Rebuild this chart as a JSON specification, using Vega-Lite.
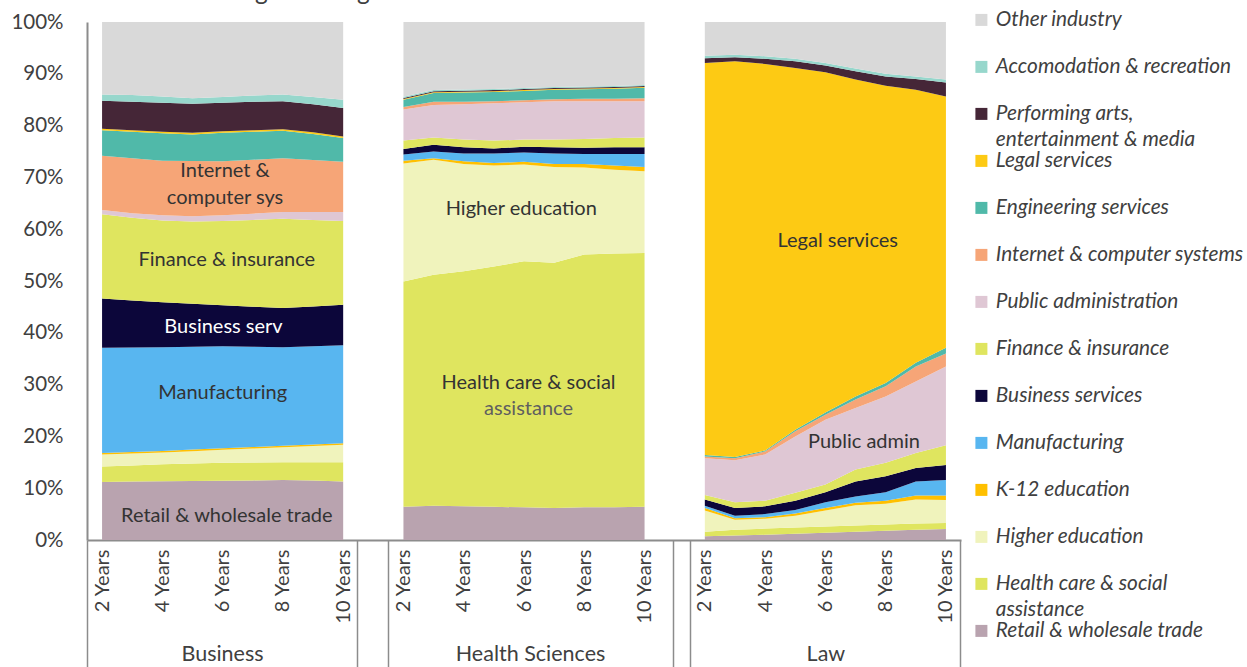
{
  "$schema": "https://vega.github.io/schema/vega-lite/v6.json",
  "width": 874,
  "height": 518,
  "autosize": {"type": "none"},
  "padding": {"left": 87, "top": 22, "right": 286, "bottom": 127},
  "background": "white",
  "config": {
    "view": {"stroke": null},
    "font": "Lato",
    "axis": {"labelFont": "Lato", "labelColor": "#404040"}
  },
  "title": {
    "text": "2000 to 2012 graduating cohorts",
    "anchor": "start",
    "frame": "group",
    "font": "Lato",
    "fontSize": 24.5,
    "fontWeight": "normal",
    "color": "#404040",
    "dx": 13,
    "dy": 15,
    "offset": 0,
    "baseline": "alphabetic"
  },
  "datasets": {
    "industries": [
      {"industry":"Retail & wholesale trade","stack_rank":1},
      {"industry":"Health care & social assistance","stack_rank":2},
      {"industry":"Higher education","stack_rank":3},
      {"industry":"K-12 education","stack_rank":4},
      {"industry":"Manufacturing","stack_rank":5},
      {"industry":"Business services","stack_rank":6},
      {"industry":"Finance & insurance","stack_rank":7},
      {"industry":"Public administration","stack_rank":8},
      {"industry":"Internet & computer systems","stack_rank":9},
      {"industry":"Engineering services","stack_rank":10},
      {"industry":"Legal services","stack_rank":11},
      {"industry":"Performing arts, entertainment & media","stack_rank":12},
      {"industry":"Accomodation & recreation","stack_rank":13},
      {"industry":"Other industry","stack_rank":14}
    ],
    "shares": [
      {"program":"Business","pos":0,"industry":"Retail & wholesale trade","share":11.2},
      {"program":"Business","pos":1,"industry":"Retail & wholesale trade","share":11.3},
      {"program":"Business","pos":2,"industry":"Retail & wholesale trade","share":11.35},
      {"program":"Business","pos":3,"industry":"Retail & wholesale trade","share":11.4},
      {"program":"Business","pos":4,"industry":"Retail & wholesale trade","share":11.45},
      {"program":"Business","pos":5,"industry":"Retail & wholesale trade","share":11.5},
      {"program":"Business","pos":6,"industry":"Retail & wholesale trade","share":11.6},
      {"program":"Business","pos":7,"industry":"Retail & wholesale trade","share":11.5},
      {"program":"Business","pos":8,"industry":"Retail & wholesale trade","share":11.3},
      {"program":"Business","pos":0,"industry":"Health care & social assistance","share":3.0},
      {"program":"Business","pos":1,"industry":"Health care & social assistance","share":3.1},
      {"program":"Business","pos":2,"industry":"Health care & social assistance","share":3.25},
      {"program":"Business","pos":3,"industry":"Health care & social assistance","share":3.35},
      {"program":"Business","pos":4,"industry":"Health care & social assistance","share":3.45},
      {"program":"Business","pos":5,"industry":"Health care & social assistance","share":3.45},
      {"program":"Business","pos":6,"industry":"Health care & social assistance","share":3.4},
      {"program":"Business","pos":7,"industry":"Health care & social assistance","share":3.5},
      {"program":"Business","pos":8,"industry":"Health care & social assistance","share":3.7},
      {"program":"Business","pos":0,"industry":"Higher education","share":2.3},
      {"program":"Business","pos":1,"industry":"Higher education","share":2.3},
      {"program":"Business","pos":2,"industry":"Higher education","share":2.3},
      {"program":"Business","pos":3,"industry":"Higher education","share":2.4},
      {"program":"Business","pos":4,"industry":"Higher education","share":2.5},
      {"program":"Business","pos":5,"industry":"Higher education","share":2.7},
      {"program":"Business","pos":6,"industry":"Higher education","share":2.9},
      {"program":"Business","pos":7,"industry":"Higher education","share":3.15},
      {"program":"Business","pos":8,"industry":"Higher education","share":3.4},
      {"program":"Business","pos":0,"industry":"K-12 education","share":0.3},
      {"program":"Business","pos":1,"industry":"K-12 education","share":0.3},
      {"program":"Business","pos":2,"industry":"K-12 education","share":0.3},
      {"program":"Business","pos":3,"industry":"K-12 education","share":0.3},
      {"program":"Business","pos":4,"industry":"K-12 education","share":0.3},
      {"program":"Business","pos":5,"industry":"K-12 education","share":0.3},
      {"program":"Business","pos":6,"industry":"K-12 education","share":0.3},
      {"program":"Business","pos":7,"industry":"K-12 education","share":0.3},
      {"program":"Business","pos":8,"industry":"K-12 education","share":0.3},
      {"program":"Business","pos":0,"industry":"Manufacturing","share":20.3},
      {"program":"Business","pos":1,"industry":"Manufacturing","share":20.15},
      {"program":"Business","pos":2,"industry":"Manufacturing","share":20.0},
      {"program":"Business","pos":3,"industry":"Manufacturing","share":19.85},
      {"program":"Business","pos":4,"industry":"Manufacturing","share":19.7},
      {"program":"Business","pos":5,"industry":"Manufacturing","share":19.35},
      {"program":"Business","pos":6,"industry":"Manufacturing","share":19.0},
      {"program":"Business","pos":7,"industry":"Manufacturing","share":18.95},
      {"program":"Business","pos":8,"industry":"Manufacturing","share":18.9},
      {"program":"Business","pos":0,"industry":"Business services","share":9.5},
      {"program":"Business","pos":1,"industry":"Business services","share":9.1},
      {"program":"Business","pos":2,"industry":"Business services","share":8.7},
      {"program":"Business","pos":3,"industry":"Business services","share":8.3},
      {"program":"Business","pos":4,"industry":"Business services","share":7.9},
      {"program":"Business","pos":5,"industry":"Business services","share":7.75},
      {"program":"Business","pos":6,"industry":"Business services","share":7.6},
      {"program":"Business","pos":7,"industry":"Business services","share":7.7},
      {"program":"Business","pos":8,"industry":"Business services","share":7.8},
      {"program":"Business","pos":0,"industry":"Finance & insurance","share":16.3},
      {"program":"Business","pos":1,"industry":"Finance & insurance","share":15.95},
      {"program":"Business","pos":2,"industry":"Finance & insurance","share":15.8},
      {"program":"Business","pos":3,"industry":"Finance & insurance","share":15.9},
      {"program":"Business","pos":4,"industry":"Finance & insurance","share":16.3},
      {"program":"Business","pos":5,"industry":"Finance & insurance","share":16.75},
      {"program":"Business","pos":6,"industry":"Finance & insurance","share":17.2},
      {"program":"Business","pos":7,"industry":"Finance & insurance","share":16.7},
      {"program":"Business","pos":8,"industry":"Finance & insurance","share":16.2},
      {"program":"Business","pos":0,"industry":"Public administration","share":0.8},
      {"program":"Business","pos":1,"industry":"Public administration","share":0.9},
      {"program":"Business","pos":2,"industry":"Public administration","share":1.0},
      {"program":"Business","pos":3,"industry":"Public administration","share":1.0},
      {"program":"Business","pos":4,"industry":"Public administration","share":1.1},
      {"program":"Business","pos":5,"industry":"Public administration","share":1.2},
      {"program":"Business","pos":6,"industry":"Public administration","share":1.3},
      {"program":"Business","pos":7,"industry":"Public administration","share":1.5},
      {"program":"Business","pos":8,"industry":"Public administration","share":1.7},
      {"program":"Business","pos":0,"industry":"Internet & computer systems","share":10.5},
      {"program":"Business","pos":1,"industry":"Internet & computer systems","share":10.6},
      {"program":"Business","pos":2,"industry":"Internet & computer systems","share":10.5},
      {"program":"Business","pos":3,"industry":"Internet & computer systems","share":10.65},
      {"program":"Business","pos":4,"industry":"Internet & computer systems","share":10.4},
      {"program":"Business","pos":5,"industry":"Internet & computer systems","share":10.4},
      {"program":"Business","pos":6,"industry":"Internet & computer systems","share":10.4},
      {"program":"Business","pos":7,"industry":"Internet & computer systems","share":10.05},
      {"program":"Business","pos":8,"industry":"Internet & computer systems","share":9.7},
      {"program":"Business","pos":0,"industry":"Engineering services","share":4.9},
      {"program":"Business","pos":1,"industry":"Engineering services","share":5.1},
      {"program":"Business","pos":2,"industry":"Engineering services","share":5.3},
      {"program":"Business","pos":3,"industry":"Engineering services","share":5.15},
      {"program":"Business","pos":4,"industry":"Engineering services","share":5.5},
      {"program":"Business","pos":5,"industry":"Engineering services","share":5.4},
      {"program":"Business","pos":6,"industry":"Engineering services","share":5.3},
      {"program":"Business","pos":7,"industry":"Engineering services","share":5.05},
      {"program":"Business","pos":8,"industry":"Engineering services","share":4.6},
      {"program":"Business","pos":0,"industry":"Legal services","share":0.3},
      {"program":"Business","pos":1,"industry":"Legal services","share":0.3},
      {"program":"Business","pos":2,"industry":"Legal services","share":0.3},
      {"program":"Business","pos":3,"industry":"Legal services","share":0.3},
      {"program":"Business","pos":4,"industry":"Legal services","share":0.3},
      {"program":"Business","pos":5,"industry":"Legal services","share":0.3},
      {"program":"Business","pos":6,"industry":"Legal services","share":0.3},
      {"program":"Business","pos":7,"industry":"Legal services","share":0.3},
      {"program":"Business","pos":8,"industry":"Legal services","share":0.3},
      {"program":"Business","pos":0,"industry":"Performing arts, entertainment & media","share":5.4},
      {"program":"Business","pos":1,"industry":"Performing arts, entertainment & media","share":5.5},
      {"program":"Business","pos":2,"industry":"Performing arts, entertainment & media","share":5.6},
      {"program":"Business","pos":3,"industry":"Performing arts, entertainment & media","share":5.6},
      {"program":"Business","pos":4,"industry":"Performing arts, entertainment & media","share":5.5},
      {"program":"Business","pos":5,"industry":"Performing arts, entertainment & media","share":5.5},
      {"program":"Business","pos":6,"industry":"Performing arts, entertainment & media","share":5.4},
      {"program":"Business","pos":7,"industry":"Performing arts, entertainment & media","share":5.4},
      {"program":"Business","pos":8,"industry":"Performing arts, entertainment & media","share":5.5},
      {"program":"Business","pos":0,"industry":"Accomodation & recreation","share":1.2},
      {"program":"Business","pos":1,"industry":"Accomodation & recreation","share":1.3},
      {"program":"Business","pos":2,"industry":"Accomodation & recreation","share":1.2},
      {"program":"Business","pos":3,"industry":"Accomodation & recreation","share":1.1},
      {"program":"Business","pos":4,"industry":"Accomodation & recreation","share":1.1},
      {"program":"Business","pos":5,"industry":"Accomodation & recreation","share":1.2},
      {"program":"Business","pos":6,"industry":"Accomodation & recreation","share":1.3},
      {"program":"Business","pos":7,"industry":"Accomodation & recreation","share":1.4},
      {"program":"Business","pos":8,"industry":"Accomodation & recreation","share":1.6},
      {"program":"Business","pos":0,"industry":"Other industry","share":14.0},
      {"program":"Business","pos":1,"industry":"Other industry","share":14.1},
      {"program":"Business","pos":2,"industry":"Other industry","share":14.4},
      {"program":"Business","pos":3,"industry":"Other industry","share":14.7},
      {"program":"Business","pos":4,"industry":"Other industry","share":14.5},
      {"program":"Business","pos":5,"industry":"Other industry","share":14.2},
      {"program":"Business","pos":6,"industry":"Other industry","share":14.0},
      {"program":"Business","pos":7,"industry":"Other industry","share":14.5},
      {"program":"Business","pos":8,"industry":"Other industry","share":15.0},

      {"program":"Health Sciences","pos":10,"industry":"Retail & wholesale trade","share":6.4},
      {"program":"Health Sciences","pos":11,"industry":"Retail & wholesale trade","share":6.6},
      {"program":"Health Sciences","pos":12,"industry":"Retail & wholesale trade","share":6.5},
      {"program":"Health Sciences","pos":13,"industry":"Retail & wholesale trade","share":6.4},
      {"program":"Health Sciences","pos":14,"industry":"Retail & wholesale trade","share":6.3},
      {"program":"Health Sciences","pos":15,"industry":"Retail & wholesale trade","share":6.2},
      {"program":"Health Sciences","pos":16,"industry":"Retail & wholesale trade","share":6.3},
      {"program":"Health Sciences","pos":17,"industry":"Retail & wholesale trade","share":6.3},
      {"program":"Health Sciences","pos":18,"industry":"Retail & wholesale trade","share":6.4},
      {"program":"Health Sciences","pos":10,"industry":"Health care & social assistance","share":43.5},
      {"program":"Health Sciences","pos":11,"industry":"Health care & social assistance","share":44.6},
      {"program":"Health Sciences","pos":12,"industry":"Health care & social assistance","share":45.4},
      {"program":"Health Sciences","pos":13,"industry":"Health care & social assistance","share":46.4},
      {"program":"Health Sciences","pos":14,"industry":"Health care & social assistance","share":47.5},
      {"program":"Health Sciences","pos":15,"industry":"Health care & social assistance","share":47.3},
      {"program":"Health Sciences","pos":16,"industry":"Health care & social assistance","share":48.8},
      {"program":"Health Sciences","pos":17,"industry":"Health care & social assistance","share":49.0},
      {"program":"Health Sciences","pos":18,"industry":"Health care & social assistance","share":49.0},
      {"program":"Health Sciences","pos":10,"industry":"Higher education","share":22.8},
      {"program":"Health Sciences","pos":11,"industry":"Higher education","share":22.2},
      {"program":"Health Sciences","pos":12,"industry":"Higher education","share":20.7},
      {"program":"Health Sciences","pos":13,"industry":"Higher education","share":19.5},
      {"program":"Health Sciences","pos":14,"industry":"Higher education","share":18.7},
      {"program":"Health Sciences","pos":15,"industry":"Higher education","share":18.5},
      {"program":"Health Sciences","pos":16,"industry":"Higher education","share":16.8},
      {"program":"Health Sciences","pos":17,"industry":"Higher education","share":16.2},
      {"program":"Health Sciences","pos":18,"industry":"Higher education","share":15.8},
      {"program":"Health Sciences","pos":10,"industry":"K-12 education","share":0.5},
      {"program":"Health Sciences","pos":11,"industry":"K-12 education","share":0.3},
      {"program":"Health Sciences","pos":12,"industry":"K-12 education","share":0.5},
      {"program":"Health Sciences","pos":13,"industry":"K-12 education","share":0.5},
      {"program":"Health Sciences","pos":14,"industry":"K-12 education","share":0.5},
      {"program":"Health Sciences","pos":15,"industry":"K-12 education","share":0.6},
      {"program":"Health Sciences","pos":16,"industry":"K-12 education","share":0.7},
      {"program":"Health Sciences","pos":17,"industry":"K-12 education","share":0.8},
      {"program":"Health Sciences","pos":18,"industry":"K-12 education","share":0.8},
      {"program":"Health Sciences","pos":10,"industry":"Manufacturing","share":1.2},
      {"program":"Health Sciences","pos":11,"industry":"Manufacturing","share":1.3},
      {"program":"Health Sciences","pos":12,"industry":"Manufacturing","share":1.5},
      {"program":"Health Sciences","pos":13,"industry":"Manufacturing","share":1.8},
      {"program":"Health Sciences","pos":14,"industry":"Manufacturing","share":1.8},
      {"program":"Health Sciences","pos":15,"industry":"Manufacturing","share":2.0},
      {"program":"Health Sciences","pos":16,"industry":"Manufacturing","share":1.9},
      {"program":"Health Sciences","pos":17,"industry":"Manufacturing","share":2.2},
      {"program":"Health Sciences","pos":18,"industry":"Manufacturing","share":2.5},
      {"program":"Health Sciences","pos":10,"industry":"Business services","share":1.1},
      {"program":"Health Sciences","pos":11,"industry":"Business services","share":1.3},
      {"program":"Health Sciences","pos":12,"industry":"Business services","share":1.2},
      {"program":"Health Sciences","pos":13,"industry":"Business services","share":1.0},
      {"program":"Health Sciences","pos":14,"industry":"Business services","share":1.1},
      {"program":"Health Sciences","pos":15,"industry":"Business services","share":1.2},
      {"program":"Health Sciences","pos":16,"industry":"Business services","share":1.2},
      {"program":"Health Sciences","pos":17,"industry":"Business services","share":1.3},
      {"program":"Health Sciences","pos":18,"industry":"Business services","share":1.3},
      {"program":"Health Sciences","pos":10,"industry":"Finance & insurance","share":1.6},
      {"program":"Health Sciences","pos":11,"industry":"Finance & insurance","share":1.4},
      {"program":"Health Sciences","pos":12,"industry":"Finance & insurance","share":1.5},
      {"program":"Health Sciences","pos":13,"industry":"Finance & insurance","share":1.5},
      {"program":"Health Sciences","pos":14,"industry":"Finance & insurance","share":1.4},
      {"program":"Health Sciences","pos":15,"industry":"Finance & insurance","share":1.5},
      {"program":"Health Sciences","pos":16,"industry":"Finance & insurance","share":1.7},
      {"program":"Health Sciences","pos":17,"industry":"Finance & insurance","share":1.8},
      {"program":"Health Sciences","pos":18,"industry":"Finance & insurance","share":1.9},
      {"program":"Health Sciences","pos":10,"industry":"Public administration","share":6.0},
      {"program":"Health Sciences","pos":11,"industry":"Public administration","share":6.3},
      {"program":"Health Sciences","pos":12,"industry":"Public administration","share":6.8},
      {"program":"Health Sciences","pos":13,"industry":"Public administration","share":7.2},
      {"program":"Health Sciences","pos":14,"industry":"Public administration","share":7.2},
      {"program":"Health Sciences","pos":15,"industry":"Public administration","share":7.4},
      {"program":"Health Sciences","pos":16,"industry":"Public administration","share":7.3},
      {"program":"Health Sciences","pos":17,"industry":"Public administration","share":7.1},
      {"program":"Health Sciences","pos":18,"industry":"Public administration","share":7.0},
      {"program":"Health Sciences","pos":10,"industry":"Internet & computer systems","share":0.5},
      {"program":"Health Sciences","pos":11,"industry":"Internet & computer systems","share":0.6},
      {"program":"Health Sciences","pos":12,"industry":"Internet & computer systems","share":0.5},
      {"program":"Health Sciences","pos":13,"industry":"Internet & computer systems","share":0.4},
      {"program":"Health Sciences","pos":14,"industry":"Internet & computer systems","share":0.4},
      {"program":"Health Sciences","pos":15,"industry":"Internet & computer systems","share":0.4},
      {"program":"Health Sciences","pos":16,"industry":"Internet & computer systems","share":0.5},
      {"program":"Health Sciences","pos":17,"industry":"Internet & computer systems","share":0.5},
      {"program":"Health Sciences","pos":18,"industry":"Internet & computer systems","share":0.6},
      {"program":"Health Sciences","pos":10,"industry":"Engineering services","share":1.4},
      {"program":"Health Sciences","pos":11,"industry":"Engineering services","share":1.7},
      {"program":"Health Sciences","pos":12,"industry":"Engineering services","share":1.8},
      {"program":"Health Sciences","pos":13,"industry":"Engineering services","share":1.8},
      {"program":"Health Sciences","pos":14,"industry":"Engineering services","share":1.8},
      {"program":"Health Sciences","pos":15,"industry":"Engineering services","share":1.8},
      {"program":"Health Sciences","pos":16,"industry":"Engineering services","share":1.8},
      {"program":"Health Sciences","pos":17,"industry":"Engineering services","share":1.9},
      {"program":"Health Sciences","pos":18,"industry":"Engineering services","share":2.0},
      {"program":"Health Sciences","pos":10,"industry":"Legal services","share":0.15},
      {"program":"Health Sciences","pos":11,"industry":"Legal services","share":0.15},
      {"program":"Health Sciences","pos":12,"industry":"Legal services","share":0.15},
      {"program":"Health Sciences","pos":13,"industry":"Legal services","share":0.15},
      {"program":"Health Sciences","pos":14,"industry":"Legal services","share":0.15},
      {"program":"Health Sciences","pos":15,"industry":"Legal services","share":0.15},
      {"program":"Health Sciences","pos":16,"industry":"Legal services","share":0.15},
      {"program":"Health Sciences","pos":17,"industry":"Legal services","share":0.15},
      {"program":"Health Sciences","pos":18,"industry":"Legal services","share":0.15},
      {"program":"Health Sciences","pos":10,"industry":"Performing arts, entertainment & media","share":0.2},
      {"program":"Health Sciences","pos":11,"industry":"Performing arts, entertainment & media","share":0.2},
      {"program":"Health Sciences","pos":12,"industry":"Performing arts, entertainment & media","share":0.2},
      {"program":"Health Sciences","pos":13,"industry":"Performing arts, entertainment & media","share":0.2},
      {"program":"Health Sciences","pos":14,"industry":"Performing arts, entertainment & media","share":0.2},
      {"program":"Health Sciences","pos":15,"industry":"Performing arts, entertainment & media","share":0.2},
      {"program":"Health Sciences","pos":16,"industry":"Performing arts, entertainment & media","share":0.2},
      {"program":"Health Sciences","pos":17,"industry":"Performing arts, entertainment & media","share":0.2},
      {"program":"Health Sciences","pos":18,"industry":"Performing arts, entertainment & media","share":0.2},
      {"program":"Health Sciences","pos":10,"industry":"Accomodation & recreation","share":0.2},
      {"program":"Health Sciences","pos":11,"industry":"Accomodation & recreation","share":0.2},
      {"program":"Health Sciences","pos":12,"industry":"Accomodation & recreation","share":0.2},
      {"program":"Health Sciences","pos":13,"industry":"Accomodation & recreation","share":0.2},
      {"program":"Health Sciences","pos":14,"industry":"Accomodation & recreation","share":0.2},
      {"program":"Health Sciences","pos":15,"industry":"Accomodation & recreation","share":0.2},
      {"program":"Health Sciences","pos":16,"industry":"Accomodation & recreation","share":0.2},
      {"program":"Health Sciences","pos":17,"industry":"Accomodation & recreation","share":0.2},
      {"program":"Health Sciences","pos":18,"industry":"Accomodation & recreation","share":0.2},
      {"program":"Health Sciences","pos":10,"industry":"Other industry","share":14.45},
      {"program":"Health Sciences","pos":11,"industry":"Other industry","share":13.15},
      {"program":"Health Sciences","pos":12,"industry":"Other industry","share":13.05},
      {"program":"Health Sciences","pos":13,"industry":"Other industry","share":12.95},
      {"program":"Health Sciences","pos":14,"industry":"Other industry","share":12.75},
      {"program":"Health Sciences","pos":15,"industry":"Other industry","share":12.55},
      {"program":"Health Sciences","pos":16,"industry":"Other industry","share":12.45},
      {"program":"Health Sciences","pos":17,"industry":"Other industry","share":12.35},
      {"program":"Health Sciences","pos":18,"industry":"Other industry","share":12.15},

      {"program":"Law","pos":20,"industry":"Retail & wholesale trade","share":0.7},
      {"program":"Law","pos":21,"industry":"Retail & wholesale trade","share":0.85},
      {"program":"Law","pos":22,"industry":"Retail & wholesale trade","share":1.0},
      {"program":"Law","pos":23,"industry":"Retail & wholesale trade","share":1.2},
      {"program":"Law","pos":24,"industry":"Retail & wholesale trade","share":1.4},
      {"program":"Law","pos":25,"industry":"Retail & wholesale trade","share":1.6},
      {"program":"Law","pos":26,"industry":"Retail & wholesale trade","share":1.8},
      {"program":"Law","pos":27,"industry":"Retail & wholesale trade","share":2.0},
      {"program":"Law","pos":28,"industry":"Retail & wholesale trade","share":2.1},
      {"program":"Law","pos":20,"industry":"Health care & social assistance","share":0.9},
      {"program":"Law","pos":21,"industry":"Health care & social assistance","share":1.15},
      {"program":"Law","pos":22,"industry":"Health care & social assistance","share":1.2},
      {"program":"Law","pos":23,"industry":"Health care & social assistance","share":1.2},
      {"program":"Law","pos":24,"industry":"Health care & social assistance","share":1.2},
      {"program":"Law","pos":25,"industry":"Health care & social assistance","share":1.2},
      {"program":"Law","pos":26,"industry":"Health care & social assistance","share":1.2},
      {"program":"Law","pos":27,"industry":"Health care & social assistance","share":1.2},
      {"program":"Law","pos":28,"industry":"Health care & social assistance","share":1.2},
      {"program":"Law","pos":20,"industry":"Higher education","share":4.1},
      {"program":"Law","pos":21,"industry":"Higher education","share":1.9},
      {"program":"Law","pos":22,"industry":"Higher education","share":1.9},
      {"program":"Law","pos":23,"industry":"Higher education","share":2.3},
      {"program":"Law","pos":24,"industry":"Higher education","share":3.1},
      {"program":"Law","pos":25,"industry":"Higher education","share":3.9},
      {"program":"Law","pos":26,"industry":"Higher education","share":4.0},
      {"program":"Law","pos":27,"industry":"Higher education","share":4.6},
      {"program":"Law","pos":28,"industry":"Higher education","share":4.4},
      {"program":"Law","pos":20,"industry":"K-12 education","share":0.5},
      {"program":"Law","pos":21,"industry":"K-12 education","share":0.3},
      {"program":"Law","pos":22,"industry":"K-12 education","share":0.3},
      {"program":"Law","pos":23,"industry":"K-12 education","share":0.4},
      {"program":"Law","pos":24,"industry":"K-12 education","share":0.5},
      {"program":"Law","pos":25,"industry":"K-12 education","share":0.5},
      {"program":"Law","pos":26,"industry":"K-12 education","share":0.6},
      {"program":"Law","pos":27,"industry":"K-12 education","share":0.8},
      {"program":"Law","pos":28,"industry":"K-12 education","share":0.9},
      {"program":"Law","pos":20,"industry":"Manufacturing","share":0.4},
      {"program":"Law","pos":21,"industry":"Manufacturing","share":0.5},
      {"program":"Law","pos":22,"industry":"Manufacturing","share":0.6},
      {"program":"Law","pos":23,"industry":"Manufacturing","share":0.7},
      {"program":"Law","pos":24,"industry":"Manufacturing","share":1.1},
      {"program":"Law","pos":25,"industry":"Manufacturing","share":1.2},
      {"program":"Law","pos":26,"industry":"Manufacturing","share":1.6},
      {"program":"Law","pos":27,"industry":"Manufacturing","share":2.7},
      {"program":"Law","pos":28,"industry":"Manufacturing","share":3.0},
      {"program":"Law","pos":20,"industry":"Business services","share":1.2},
      {"program":"Law","pos":21,"industry":"Business services","share":1.5},
      {"program":"Law","pos":22,"industry":"Business services","share":1.5},
      {"program":"Law","pos":23,"industry":"Business services","share":1.8},
      {"program":"Law","pos":24,"industry":"Business services","share":1.9},
      {"program":"Law","pos":25,"industry":"Business services","share":2.9},
      {"program":"Law","pos":26,"industry":"Business services","share":3.1},
      {"program":"Law","pos":27,"industry":"Business services","share":2.6},
      {"program":"Law","pos":28,"industry":"Business services","share":2.9},
      {"program":"Law","pos":20,"industry":"Finance & insurance","share":0.9},
      {"program":"Law","pos":21,"industry":"Finance & insurance","share":1.1},
      {"program":"Law","pos":22,"industry":"Finance & insurance","share":1.1},
      {"program":"Law","pos":23,"industry":"Finance & insurance","share":1.5},
      {"program":"Law","pos":24,"industry":"Finance & insurance","share":1.5},
      {"program":"Law","pos":25,"industry":"Finance & insurance","share":2.3},
      {"program":"Law","pos":26,"industry":"Finance & insurance","share":2.6},
      {"program":"Law","pos":27,"industry":"Finance & insurance","share":2.9},
      {"program":"Law","pos":28,"industry":"Finance & insurance","share":3.8},
      {"program":"Law","pos":20,"industry":"Public administration","share":7.1},
      {"program":"Law","pos":21,"industry":"Public administration","share":8.1},
      {"program":"Law","pos":22,"industry":"Public administration","share":8.9},
      {"program":"Law","pos":23,"industry":"Public administration","share":10.9},
      {"program":"Law","pos":24,"industry":"Public administration","share":12.5},
      {"program":"Law","pos":25,"industry":"Public administration","share":11.9},
      {"program":"Law","pos":26,"industry":"Public administration","share":12.8},
      {"program":"Law","pos":27,"industry":"Public administration","share":13.8},
      {"program":"Law","pos":28,"industry":"Public administration","share":15.2},
      {"program":"Law","pos":20,"industry":"Internet & computer systems","share":0.3},
      {"program":"Law","pos":21,"industry":"Internet & computer systems","share":0.4},
      {"program":"Law","pos":22,"industry":"Internet & computer systems","share":0.6},
      {"program":"Law","pos":23,"industry":"Internet & computer systems","share":1.0},
      {"program":"Law","pos":24,"industry":"Internet & computer systems","share":1.0},
      {"program":"Law","pos":25,"industry":"Internet & computer systems","share":1.6},
      {"program":"Law","pos":26,"industry":"Internet & computer systems","share":2.0},
      {"program":"Law","pos":27,"industry":"Internet & computer systems","share":2.9},
      {"program":"Law","pos":28,"industry":"Internet & computer systems","share":2.5},
      {"program":"Law","pos":20,"industry":"Engineering services","share":0.3},
      {"program":"Law","pos":21,"industry":"Engineering services","share":0.2},
      {"program":"Law","pos":22,"industry":"Engineering services","share":0.2},
      {"program":"Law","pos":23,"industry":"Engineering services","share":0.3},
      {"program":"Law","pos":24,"industry":"Engineering services","share":0.4},
      {"program":"Law","pos":25,"industry":"Engineering services","share":0.6},
      {"program":"Law","pos":26,"industry":"Engineering services","share":0.6},
      {"program":"Law","pos":27,"industry":"Engineering services","share":0.7},
      {"program":"Law","pos":28,"industry":"Engineering services","share":1.1},
      {"program":"Law","pos":20,"industry":"Legal services","share":75.7},
      {"program":"Law","pos":21,"industry":"Legal services","share":76.4},
      {"program":"Law","pos":22,"industry":"Legal services","share":74.6},
      {"program":"Law","pos":23,"industry":"Legal services","share":69.8},
      {"program":"Law","pos":24,"industry":"Legal services","share":65.7},
      {"program":"Law","pos":25,"industry":"Legal services","share":61.2},
      {"program":"Law","pos":26,"industry":"Legal services","share":57.4},
      {"program":"Law","pos":27,"industry":"Legal services","share":52.7},
      {"program":"Law","pos":28,"industry":"Legal services","share":48.5},
      {"program":"Law","pos":20,"industry":"Performing arts, entertainment & media","share":0.9},
      {"program":"Law","pos":21,"industry":"Performing arts, entertainment & media","share":0.8},
      {"program":"Law","pos":22,"industry":"Performing arts, entertainment & media","share":1.0},
      {"program":"Law","pos":23,"industry":"Performing arts, entertainment & media","share":1.3},
      {"program":"Law","pos":24,"industry":"Performing arts, entertainment & media","share":1.3},
      {"program":"Law","pos":25,"industry":"Performing arts, entertainment & media","share":1.6},
      {"program":"Law","pos":26,"industry":"Performing arts, entertainment & media","share":1.8},
      {"program":"Law","pos":27,"industry":"Performing arts, entertainment & media","share":2.1},
      {"program":"Law","pos":28,"industry":"Performing arts, entertainment & media","share":2.7},
      {"program":"Law","pos":20,"industry":"Accomodation & recreation","share":0.5},
      {"program":"Law","pos":21,"industry":"Accomodation & recreation","share":0.5},
      {"program":"Law","pos":22,"industry":"Accomodation & recreation","share":0.5},
      {"program":"Law","pos":23,"industry":"Accomodation & recreation","share":0.5},
      {"program":"Law","pos":24,"industry":"Accomodation & recreation","share":0.5},
      {"program":"Law","pos":25,"industry":"Accomodation & recreation","share":0.5},
      {"program":"Law","pos":26,"industry":"Accomodation & recreation","share":0.5},
      {"program":"Law","pos":27,"industry":"Accomodation & recreation","share":0.5},
      {"program":"Law","pos":28,"industry":"Accomodation & recreation","share":0.6},
      {"program":"Law","pos":20,"industry":"Other industry","share":6.5},
      {"program":"Law","pos":21,"industry":"Other industry","share":6.3},
      {"program":"Law","pos":22,"industry":"Other industry","share":6.6},
      {"program":"Law","pos":23,"industry":"Other industry","share":7.1},
      {"program":"Law","pos":24,"industry":"Other industry","share":7.9},
      {"program":"Law","pos":25,"industry":"Other industry","share":9.0},
      {"program":"Law","pos":26,"industry":"Other industry","share":10.0},
      {"program":"Law","pos":27,"industry":"Other industry","share":10.5},
      {"program":"Law","pos":28,"industry":"Other industry","share":11.1}
    ],
    "labels": [
      {"label":"Internet &\ncomputer sys","pos":4.08,"share":71.2},
      {"label":"Finance & insurance","pos":4.14,"share":54.0},
      {"label":"Business serv","pos":4.03,"share":41.2},
      {"label":"Manufacturing","pos":4.0,"share":28.4},
      {"label":"Retail & wholesale trade","pos":4.14,"share":4.7},
      {"label":"Higher education","pos":13.91,"share":63.9},
      {"label":"Health care & social","pos":14.15,"share":30.3},
      {"label":"assistance","pos":14.15,"share":25.3},
      {"label":"Legal services","pos":24.41,"share":57.8},
      {"label":"Public admin","pos":25.28,"share":19.0}
    ],
    "programs": [
      {"program":"Business","start":-0.5,"center":3.98,"end":8.46},
      {"program":"Health Sciences","start":9.49,"center":14.2,"end":18.94},
      {"program":"Law","start":19.51,"center":24.0,"end":28.47}
    ]
  },
  "layer": [
    {
      "data": {"name": "shares"},
      "transform": [
        {"lookup": "industry", "from": {"data": {"name": "industries"}, "key": "industry", "fields": ["stack_rank"]}}
      ],
      "mark": {"type": "area", "interpolate": "linear"},
      "encoding": {
        "x": {
          "field": "pos", "type": "quantitative",
          "scale": {"domain": [-0.5, 28.5], "nice": false, "zero": false},
          "axis": {
            "orient": "bottom",
            "values": [0, 2, 4, 6, 8, 10, 12, 14, 16, 18, 20, 22, 24, 26, 28],
            "labelExpr": "(datum.value % 10 + 2) + ' Years'",
            "labelAngle": 270, "labelAlign": "right", "labelBaseline": "middle",
            "labelPadding": 9, "labelFontSize": 20, "labelOverlap": false, "labelFlush": false, "labelBound": false,
            "ticks": false, "grid": false, "domainColor": "#8c8c8c", "domainWidth": 2, "title": null
          }
        },
        "y": {
          "field": "share", "type": "quantitative", "stack": "zero", "impute": null,
          "scale": {"domain": [0, 100], "nice": false},
          "axis": {
            "values": [0, 10, 20, 30, 40, 50, 60, 70, 80, 90, 100],
            "labelExpr": "datum.value + '%'",
            "labelFontSize": 20.5, "labelPadding": 24, "ticks": false, "grid": false,
            "domainColor": "#8c8c8c", "domainWidth": 2, "title": null
          }
        },
        "order": {"field": "stack_rank", "type": "quantitative"},
        "color": {
          "field": "industry", "type": "nominal",
          "sort": ["Other industry", "Accomodation & recreation", "Performing arts, entertainment & media", "Legal services", "Engineering services", "Internet & computer systems", "Public administration", "Finance & insurance", "Business services", "Manufacturing", "K-12 education", "Higher education", "Health care & social assistance", "Retail & wholesale trade"],
          "scale": {
            "domain": ["Other industry", "Accomodation & recreation", "Performing arts, entertainment & media", "Legal services", "Engineering services", "Internet & computer systems", "Public administration", "Finance & insurance", "Business services", "Manufacturing", "K-12 education", "Higher education", "Health care & social assistance", "Retail & wholesale trade"],
            "range": ["#D9D9D9", "#97D7CC", "#452637", "#FDCA14", "#50B9A9", "#F6A577", "#DFC7D4", "#DFE55F", "#0C063A", "#58B6F0", "#FFC000", "#F0F3BC", "#DFE55F", "#B9A3AF"]
          },
          "legend": {
            "orient": "none", "legendX": 884, "legendY": -12.5,
            "title": null, "padding": 0,
            "symbolType": "square", "symbolSize": 144, "symbolStrokeWidth": 0, "symbolOpacity": 1,
            "labelFont": "Lato", "labelFontSize": 20.8, "labelFontStyle": "italic", "labelColor": "#404040",
            "labelLimit": 300, "labelOffset": 4, "labelBaseline": "top",
            "gridAlign": "all", "rowPadding": -1.2,
            "labelExpr": "datum.label == 'Performing arts, entertainment & media' ? ['Performing arts,', 'entertainment & media'] : datum.label == 'Health care & social assistance' ? ['Health care & social', 'assistance'] : datum.label",
            "encode": {"labels": {"update": {"lineHeight": {"value": 26}, "dy": {"value": -9.5}}}}
          }
        },
        "detail": {"field": "program", "type": "nominal"}
      }
    },
    {
      "data": {"name": "programs"},
      "mark": {"type": "point", "opacity": 0},
      "encoding": {
        "x": {
          "field": "start", "type": "quantitative",
          "axis": {
            "orient": "bottom",
            "values": [-0.5, 8.46, 9.49, 18.94, 19.51, 28.47],
            "labels": false, "ticks": true, "tickSize": 127, "tickColor": "#8c8c8c", "tickWidth": 1.5,
            "domain": false, "grid": false, "title": null
          }
        }
      }
    },
    {
      "data": {"name": "programs"},
      "mark": {"type": "point", "opacity": 0},
      "encoding": {
        "x": {
          "field": "center", "type": "quantitative",
          "axis": {
            "orient": "bottom",
            "values": [3.98, 14.2, 24.0],
            "labelExpr": "datum.value < 9 ? 'Business' : datum.value < 19 ? 'Health Sciences' : 'Law'",
            "labelFontSize": 21.5, "labelPadding": 103, "labelBaseline": "top", "labelAngle": 0,
            "ticks": false, "domain": false, "grid": false, "title": null
          }
        }
      }
    },
    {
      "data": {"name": "labels"},
      "mark": {"type": "text", "font": "Lato", "fontSize": 20, "align": "center", "baseline": "middle", "lineBreak": "\n", "lineHeight": 27},
      "encoding": {
        "x": {"field": "pos", "type": "quantitative", "axis": null},
        "y": {"field": "share", "type": "quantitative"},
        "text": {"field": "label"},
        "color": {
          "condition": [
            {"test": "datum.label === 'Business serv'", "value": "white"},
            {"test": "datum.label === 'assistance'", "value": "#5f5f5f"}
          ],
          "value": "#333333"
        }
      }
    }
  ],
  "resolve": {"axis": {"x": "independent"}}
}
